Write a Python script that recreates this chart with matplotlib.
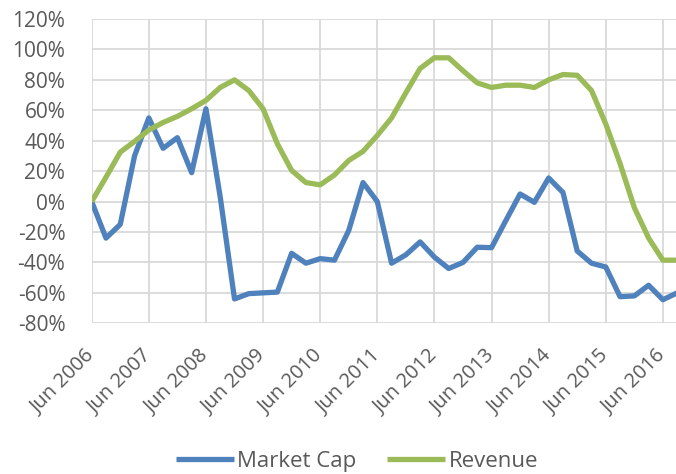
import matplotlib
matplotlib.use("Agg")
import matplotlib.pyplot as plt
import matplotlib.transforms as mtransforms
from matplotlib.ticker import FixedLocator

plt.rcParams['font.family'] = ['Open Sans', 'DejaVu Sans']

years = list(range(2006, 2017))
tick_labels = [f"Jun {y}" for y in years]

market_cap = [0, -24, -15, 30, 55, 35, 42, 19, 61, 3, -64, -60.5, -60, -59.5,
              -34, -40.5, -37.5, -38.5, -19, 12.5, 0, -40.5, -35, -26.5, -36.5,
              -44, -40, -30, -30.3, -12.5, 5, -0.5, 15.5, 6, -32.5, -40.5,
              -43, -62.5, -62, -55, -64.5, -60]
revenue = [0, 16, 32.5, 39.5, 47, 52, 56, 61, 66.5, 75, 80, 73, 61, 38, 20.5,
           12.5, 11, 17.5, 27, 33, 43.5, 55, 71.5, 87.5, 94.5, 94.5, 86, 78,
           75, 76.5, 76.5, 75, 80, 83.5, 83, 73, 51, 25, -4, -24, -38.5, -38.5]

x = list(range(len(market_cap)))

W, H = 676, 474
fig = plt.figure(figsize=(W / 100, H / 100), dpi=100)
left_px, right_px, top_px, bot_px = 91.7, 676, 19, 323.3
ax = fig.add_axes([left_px / W, 1 - bot_px / H, (right_px - left_px) / W,
                   (bot_px - top_px) / H])

blue = '#4F81BD'
green = '#9BBB59'
ax.plot(x, market_cap, color=blue, lw=3.8, label='Market Cap',
        solid_joinstyle='round', solid_capstyle='butt', zorder=3)
ax.plot(x, revenue, color=green, lw=3.8, label='Revenue',
        solid_joinstyle='round', solid_capstyle='butt', zorder=3)

q_per_px = 14.28
ax.set_xlim(0, (right_px - left_px) / q_per_px)
ax.set_ylim(-80, 120)

text_color = '#595959'
tick_pos = [4 * i for i in range(len(years))]
ax.xaxis.set_major_locator(FixedLocator(tick_pos))
ax.set_xticklabels(tick_labels, rotation=45, ha='right', va='center',
                   rotation_mode='anchor', fontsize=14.5, color=text_color)
shift = mtransforms.ScaledTranslation(5 / 72, 0, fig.dpi_scale_trans)
for lbl in ax.get_xticklabels():
    lbl.set_transform(lbl.get_transform() + shift)
ax.set_yticks(range(-80, 121, 20))
ax.set_yticklabels([f"{v}%" for v in range(-80, 121, 20)], fontsize=15,
                   color=text_color)
ax.tick_params(axis='both', length=0)
ax.tick_params(axis='x', pad=21)
ax.tick_params(axis='y', pad=19)

ax.grid(True, color='#D9D9D9', lw=1.3, zorder=0)
for s in ax.spines.values():
    s.set_visible(False)
ax.set_axisbelow(True)

fig.legend(loc='lower center', bbox_to_anchor=(0.528, -0.037), ncol=2,
           frameon=False, fontsize=16, handlelength=2.6, columnspacing=1.4,
           handletextpad=0.15, labelcolor=text_color)

fig.savefig('out.png', dpi=100)
